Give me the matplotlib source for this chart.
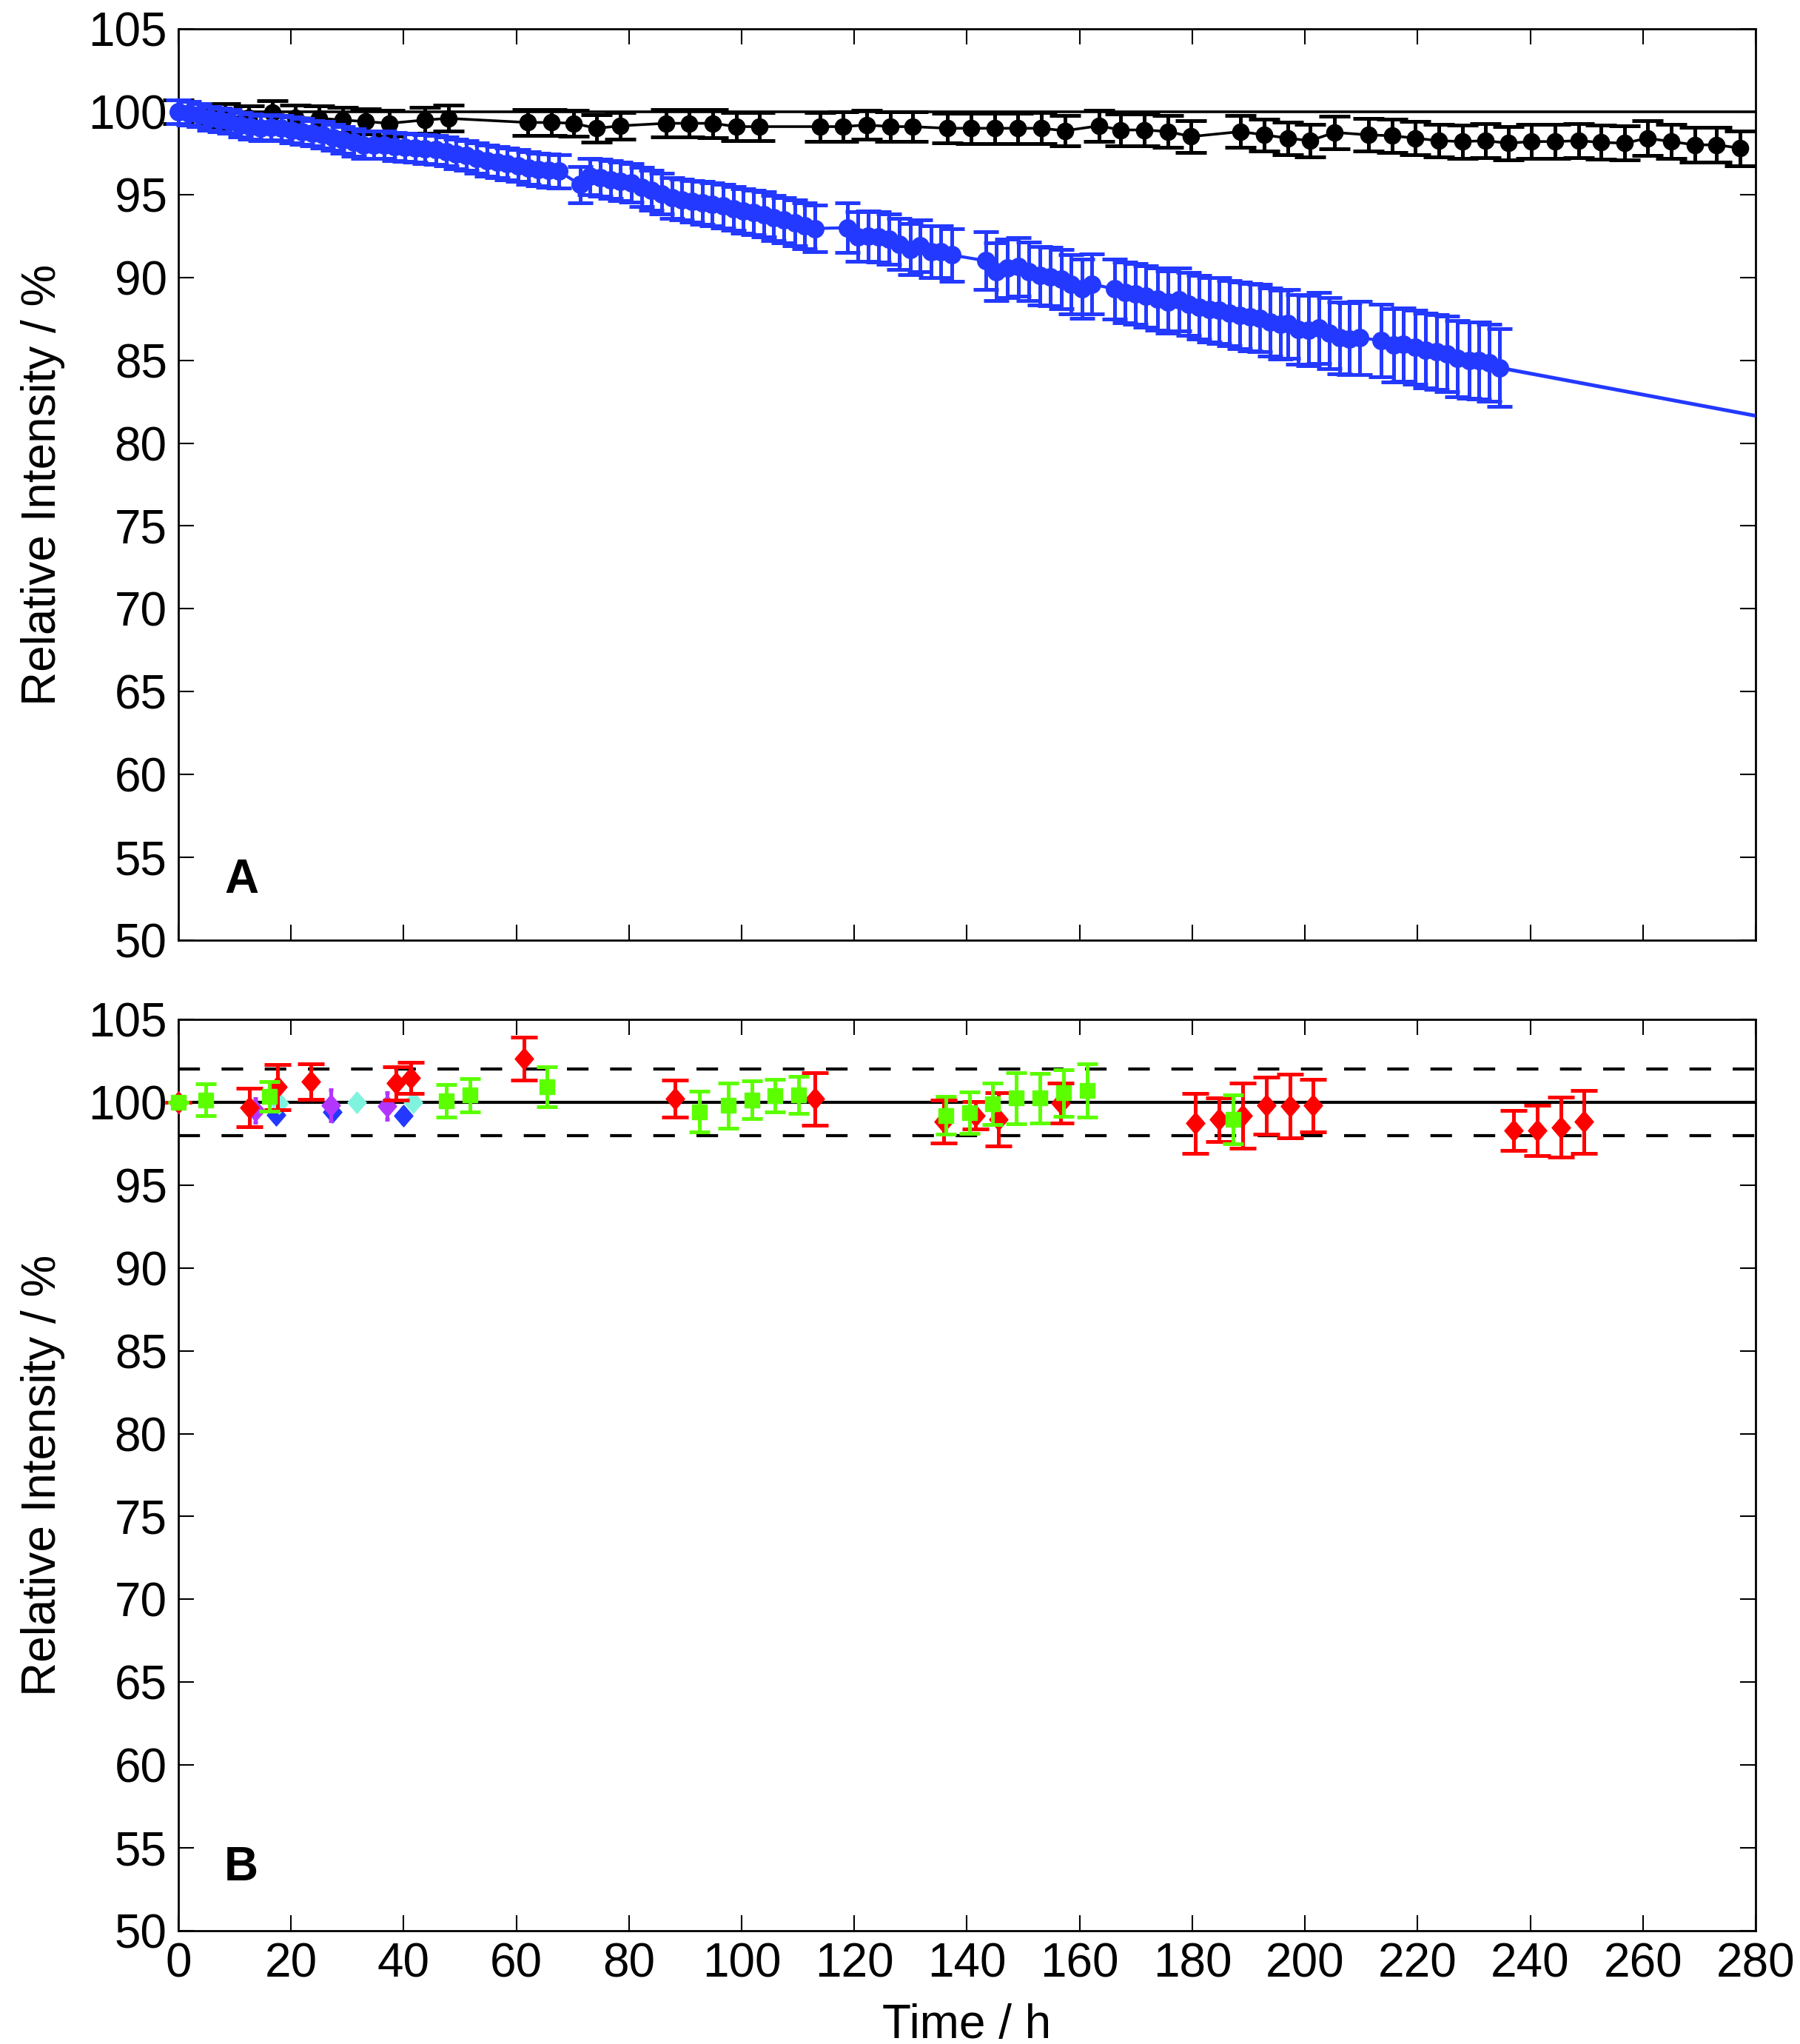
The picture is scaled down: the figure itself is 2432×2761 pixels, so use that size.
import matplotlib.pyplot as plt
from matplotlib.ticker import MultipleLocator

plt.rcParams['font.family'] = ['Liberation Sans', 'DejaVu Sans']

### DATA ###

# Panel A - black series (stable sample)
black_t = [0.0, 4.2, 8.3, 12.5, 16.7, 20.8, 25.0, 29.2, 33.3, 37.5,
           43.7, 47.9, 62.0, 66.2, 70.1, 74.3, 78.5, 86.6, 90.7, 94.9,
           99.1, 103.2, 113.9, 118.0, 122.2, 126.4, 130.3, 136.5, 140.7, 144.9,
           149.0, 153.2, 157.4, 163.4, 167.3, 171.5, 175.7, 179.8, 188.6, 192.8,
           197.0, 200.9, 205.3, 211.3, 215.5, 219.6, 223.8, 228.0, 232.1, 236.1,
           240.2, 244.4, 248.6, 252.5, 256.7, 260.8, 265.0, 269.2, 273.1, 277.3]
black_y = [100.0, 99.8, 99.75, 99.65, 99.95, 99.65, 99.6, 99.5, 99.4, 99.3,
           99.5, 99.6, 99.35, 99.35, 99.3, 99.0, 99.15, 99.3, 99.3, 99.3,
           99.1, 99.1, 99.1, 99.1, 99.2, 99.1, 99.1, 99.0, 99.0, 99.0,
           99.0, 99.0, 98.85, 99.15, 98.9, 98.9, 98.8, 98.5, 98.8, 98.6,
           98.4, 98.25, 98.75, 98.6, 98.55, 98.4, 98.25, 98.2, 98.25, 98.1,
           98.2, 98.2, 98.25, 98.15, 98.1, 98.4, 98.2, 98.0, 98.0, 97.8]
black_err = [0.7, 0.7, 0.72, 0.72, 0.73, 0.74, 0.75, 0.75, 0.76, 0.77,
             0.78, 0.78, 0.8, 0.8, 0.8, 0.82, 0.82, 0.83, 0.84, 0.85,
             0.85, 0.86, 0.87, 0.88, 0.88, 0.89, 0.9, 0.9, 0.91, 0.92,
             0.92, 0.93, 0.93, 0.94, 0.95, 0.95, 0.96, 0.96, 0.97, 0.97,
             0.98, 0.98, 0.99, 0.99, 1.0, 1.0, 1.0, 1.01, 1.01, 1.02,
             1.02, 1.02, 1.03, 1.03, 1.03, 1.04, 1.04, 1.04, 1.05, 1.05]

# Panel A - blue series (degrading sample)
blue_t = [0.0, 1.8, 3.7, 5.5, 7.3, 9.1, 11.0, 12.8, 14.6, 16.4,
          18.3, 20.1, 21.9, 23.8, 25.6, 27.4, 29.2, 31.1, 32.9, 34.7,
          36.5, 38.4, 40.2, 42.0, 43.8, 45.7, 47.5, 49.3, 51.1, 53.0,
          54.8, 56.6, 58.4, 60.3, 62.1, 63.9, 65.7, 67.6,
          71.3, 73.1, 74.9, 76.7, 78.5, 80.4, 82.2, 84.0, 85.8, 87.6,
          89.4, 91.2, 93.0, 94.8, 96.7, 98.5, 100.3, 102.1, 103.9, 105.7,
          107.5, 109.4, 111.2, 113.0,
          118.8, 120.6, 122.5, 124.3, 126.2, 128.0, 129.9, 131.7, 133.6, 135.4, 137.3,
          143.4, 145.2, 147.2, 149.1, 151.0, 152.9, 154.8, 156.7, 158.5, 160.4, 162.2,
          166.2, 168.1, 169.9, 171.7, 173.9, 175.7, 177.6, 179.4, 181.2, 183.0,
          184.8, 186.6, 188.4, 190.2, 192.0, 193.8, 195.7, 197.0, 198.8, 200.7,
          202.5, 204.3, 206.1, 207.9, 209.7,
          213.5, 215.7, 217.5, 219.6, 221.4, 223.4, 225.2, 227.0, 229.1, 230.9, 232.7, 234.5]
blue_y = [100.0, 99.9, 99.8, 99.6, 99.5, 99.4, 99.2, 99.1, 99.0, 99.05,
          99.0, 98.9, 98.8, 98.7, 98.6, 98.45, 98.3, 98.15, 98.0, 98.0,
          98.0, 97.9, 97.85, 97.8, 97.75, 97.7, 97.6, 97.45, 97.35, 97.2,
          97.05, 96.95, 96.85, 96.75, 96.6, 96.5, 96.45, 96.4,
          95.6, 96.1, 96.0, 95.9, 95.8, 95.7, 95.45, 95.25, 95.05, 94.8,
          94.7, 94.6, 94.5, 94.4, 94.3, 94.15, 94.0, 93.9, 93.8, 93.6,
          93.45, 93.3, 93.1, 92.95,
          93.0, 92.45, 92.5, 92.45, 92.3, 92.0, 91.7, 91.9, 91.55, 91.55, 91.35,
          91.0, 90.35, 90.55, 90.65, 90.35, 90.1, 90.05, 89.9, 89.6, 89.3, 89.6,
          89.3, 89.1, 89.0, 88.85, 88.7, 88.5, 88.65, 88.4, 88.2, 88.05,
          88.0, 87.85, 87.7, 87.6, 87.55, 87.3, 87.15, 87.2, 86.85, 86.8,
          86.95, 86.65, 86.35, 86.3, 86.35,
          86.2, 85.9, 85.95, 85.8, 85.6, 85.5, 85.4, 85.1, 85.0, 85.0, 84.85, 84.55]
blue_err = [0.7, 0.7, 0.7, 0.7, 0.72, 0.72, 0.74, 0.74, 0.75, 0.76,
            0.76, 0.77, 0.78, 0.78, 0.8, 0.8, 0.8, 0.82, 0.82, 0.83,
            0.84, 0.85, 0.85, 0.86, 0.87, 0.88, 0.88, 0.9, 0.9, 0.92,
            0.93, 0.94, 0.95, 0.96, 0.97, 0.98, 0.99, 1.0,
            1.1, 1.1, 1.12, 1.14, 1.15, 1.17, 1.18, 1.2, 1.22, 1.23,
            1.25, 1.26, 1.28, 1.29, 1.3, 1.32, 1.33, 1.34, 1.35, 1.36,
            1.37, 1.38, 1.39, 1.4,
            1.5, 1.5, 1.52, 1.52, 1.53, 1.54, 1.55, 1.55, 1.56, 1.57, 1.58,
            1.75, 1.75, 1.76, 1.76, 1.77, 1.77, 1.78, 1.78, 1.79, 1.79, 1.8,
            1.8, 1.82, 1.83, 1.85, 1.87, 1.88, 1.9, 1.92, 1.93, 1.95,
            1.97, 1.98, 2.0, 2.02, 2.03, 2.05, 2.07, 2.08, 2.1, 2.12,
            2.13, 2.15, 2.17, 2.18, 2.2,
            2.2, 2.21, 2.22, 2.24, 2.25, 2.26, 2.28, 2.29, 2.3, 2.32, 2.33, 2.35]

# extrapolated trend of the blue series
blue_fit_t = [234.5, 280.0]
blue_fit_y = [84.55, 81.65]

# Panel B
red_t = [0.0, 12.6, 17.6, 23.5, 38.6, 41.3, 61.4, 88.2, 113.0, 135.8, 141.5, 145.6,
         156.6, 180.5, 184.7, 188.9, 193.1, 197.3, 201.4, 237.1, 241.3, 245.4, 249.5]
red_y = [100.0, 99.7, 100.92, 101.26, 101.14, 101.47, 102.63, 100.22, 100.2, 98.83, 99.2, 98.97,
         99.95, 98.73, 98.95, 99.18, 99.8, 99.76, 99.8, 98.31, 98.31, 98.5, 98.83]
red_err = [0.0, 1.16, 1.37, 1.08, 1.02, 0.95, 1.3, 1.1, 1.57, 1.3, 0.83, 1.6,
           1.2, 1.8, 1.33, 1.97, 1.73, 1.92, 1.57, 1.21, 1.53, 1.82, 1.9]

green_t = [0.0, 4.8, 16.1, 47.6, 51.8, 65.4, 92.5, 97.6, 101.8, 105.9, 110.1,
           136.3, 140.5, 144.6, 148.8, 153.0, 157.1, 161.3, 187.3]
green_y = [100.0, 100.14, 100.37, 100.07, 100.43, 100.92, 99.43, 99.8, 100.15, 100.4, 100.45,
           99.2, 99.37, 99.92, 100.26, 100.26, 100.57, 100.7, 98.98]
green_err = [0.0, 0.96, 0.9, 0.98, 1.0, 1.2, 1.23, 1.35, 1.15, 1.0, 1.13,
             1.14, 1.25, 1.26, 1.54, 1.5, 1.4, 1.6, 1.47]

purple_t = [0.0, 13.6, 27.1, 37.0]
purple_y = [100.0, 99.5, 99.83, 99.77]
purple_err = [0.0, 0.7, 0.93, 0.82]

blueb_t = [0.0, 17.3, 27.3, 40.0]
blueb_y = [100.0, 99.25, 99.43, 99.2]
blueb_err = [0.0, 0.35, 0.3, 0.45]

cyan_t = [0.0, 17.9, 31.7, 41.7]
cyan_y = [100.0, 99.96, 100.0, 100.0]
cyan_err = [0.0, 0.3, 0.3, 0.3]

reference_level = 100
tolerance_band = [98, 102]

### STYLE ###

BLUE = '#2339FF'
RED = '#FF0000'
GREEN = '#5CFF00'
PURPLE = '#B236FF'
CYAN = '#80F3DF'
FS = 46

# MATLAB-like diamond (slightly taller than wide)
diamond = [(0, 1), (0.86, 0), (0, -1), (-0.86, 0), (0, 1)]


def no_clip(container):
    for art in container.get_children():
        art.set_clip_on(False)


def style_axes(ax, show_xlabels):
    ax.set_xlim(0, 280)
    ax.set_ylim(50, 105)
    ax.xaxis.set_major_locator(MultipleLocator(20))
    ax.yaxis.set_major_locator(MultipleLocator(5))
    ax.tick_params(direction='in', length=15, width=1.5, top=True, right=True,
                   labelsize=FS)
    ax.tick_params(axis='y', pad=11)
    ax.tick_params(axis='x', pad=11, labelbottom=show_xlabels)
    for sp in ax.spines.values():
        sp.set_linewidth(2)
    ax.set_ylabel('Relative Intensity / %', fontsize=FS)
    ax.yaxis.set_label_coords(-0.072, 0.5)


fig = plt.figure(figsize=(24.32, 27.61), dpi=100)

### Panel A ###
axA = fig.add_axes([0.0991, 0.54003, 0.8762, 0.44585])
axA.axhline(reference_level, color='k', lw=2.6, zorder=1)

c = axA.errorbar(black_t, black_y, yerr=black_err, fmt='-o', color='k', ms=16, lw=2.6,
                 elinewidth=3.6, capsize=15, capthick=3.6, zorder=2)
no_clip(c)
c = axA.errorbar(blue_t, blue_y, yerr=blue_err, fmt='-o', color=BLUE, ms=17, lw=3,
                 elinewidth=3.6, capsize=12.5, capthick=3.6, zorder=3)
no_clip(c)
axA.plot(blue_fit_t, blue_fit_y, color=BLUE, lw=3.6, zorder=3)

style_axes(axA, False)
axA.text(0.04, 0.066, 'A', transform=axA.transAxes, fontsize=FS, fontweight='bold',
         ha='center', va='center')

### Panel B ###
axB = fig.add_axes([0.0991, 0.05541, 0.8762, 0.44585])
axB.axhline(reference_level, color='k', lw=3, zorder=1)
for lvl in tolerance_band:
    axB.axhline(lvl, color='k', lw=3, linestyle=(0, (7, 7)), zorder=1)

series_b = [
    (blueb_t, blueb_y, blueb_err, BLUE, diamond, 21, 2),
    (purple_t, purple_y, purple_err, PURPLE, diamond, 21, 2),
    (cyan_t, cyan_y, cyan_err, CYAN, diamond, 21, 2),
    (red_t, red_y, red_err, RED, diamond, 21, 13.3),
    (green_t, green_y, green_err, GREEN, 's', 14.5, 10),
]
for i, (t, y, e, col, mk, size, cap) in enumerate(series_b):
    c = axB.errorbar(t, y, yerr=e, fmt='none', ecolor=col, elinewidth=3.6,
                     capsize=cap, capthick=3.6, zorder=2 + i)
    no_clip(c)
    axB.plot(t, y, linestyle='none', marker=mk, ms=size, color=col, mec=col,
             clip_on=False, zorder=2 + i)

style_axes(axB, True)
axB.set_xlabel('Time / h', fontsize=FS)
axB.xaxis.set_label_coords(0.5, -0.08)
axB.text(0.04, 0.069, 'B', transform=axB.transAxes, fontsize=FS, fontweight='bold',
         ha='center', va='center')

fig.savefig('out.png', dpi=100)
